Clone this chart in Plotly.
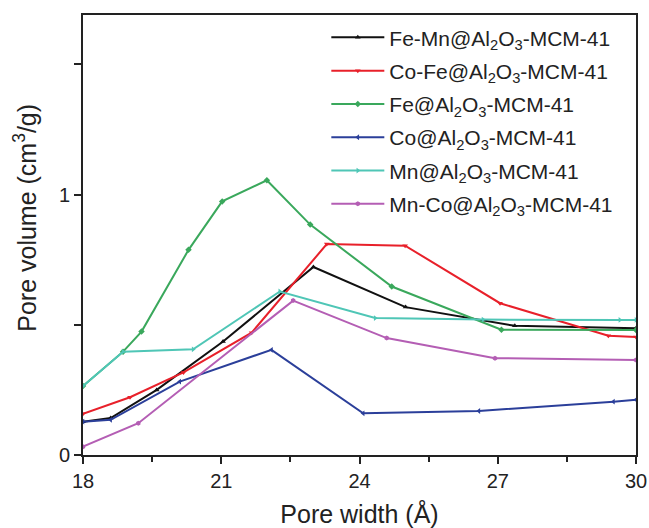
import plotly.graph_objects as go

# Data (pore width in Å, pore volume in cm3/g)
fe_mn_x = [18.0, 18.6, 19.6, 21.04, 23.0, 25.0, 27.37, 30.0]
fe_mn_y = [0.128, 0.142, 0.25, 0.436, 0.722, 0.568, 0.496, 0.487]

co_fe_x = [18.0, 19.02, 20.18, 21.66, 23.29, 24.99, 27.05, 29.4, 30.0]
co_fe_y = [0.158, 0.222, 0.317, 0.47, 0.81, 0.804, 0.583, 0.458, 0.453]

fe_x = [18.0, 18.87, 19.27, 20.29, 21.02, 21.99, 22.93, 24.7, 27.08, 30.0]
fe_y = [0.265, 0.397, 0.474, 0.788, 0.974, 1.055, 0.885, 0.647, 0.481, 0.48]

co_x = [18.0, 18.6, 20.1, 22.09, 24.08, 26.59, 29.51, 30.0]
co_y = [0.128, 0.135, 0.282, 0.404, 0.160, 0.169, 0.205, 0.212]

mn_x = [18.0, 18.87, 20.39, 22.27, 24.34, 26.68, 29.65, 30.0]
mn_y = [0.265, 0.397, 0.406, 0.628, 0.526, 0.52, 0.519, 0.519]

mn_co_x = [18.0, 19.2, 22.56, 24.59, 26.94, 30.0]
mn_co_y = [0.032, 0.122, 0.593, 0.449, 0.372, 0.365]

names = [
    "Fe-Mn@Al<sub>2</sub>O<sub>3</sub>-MCM-41",
    "Co-Fe@Al<sub>2</sub>O<sub>3</sub>-MCM-41",
    "Fe@Al<sub>2</sub>O<sub>3</sub>-MCM-41",
    "Co@Al<sub>2</sub>O<sub>3</sub>-MCM-41",
    "Mn@Al<sub>2</sub>O<sub>3</sub>-MCM-41",
    "Mn-Co@Al<sub>2</sub>O<sub>3</sub>-MCM-41",
]
xs = [fe_mn_x, co_fe_x, fe_x, co_x, mn_x, mn_co_x]
ys = [fe_mn_y, co_fe_y, fe_y, co_y, mn_y, mn_co_y]
colors = ["#111111", "#e8202a", "#3aa85c", "#2b3f9a", "#4fc6b6", "#b45eb4"]
symbols = ["triangle-up", "triangle-down", "diamond", "triangle-left", "triangle-right", "hexagon"]

fig = go.Figure()
for i, (n, x, y, c, s) in enumerate(zip(names, xs, ys, colors, symbols)):
    fig.add_trace(go.Scatter(x=x, y=y, name=n, mode="lines+markers",
                             legendgroup="g%d" % i,
                             line=dict(color=c, width=2),
                             marker=dict(color=c, symbol=s, size=5)))

fig.update_layout(
    width=649, height=528,
    margin=dict(l=83, r=13, t=15, b=73, autoexpand=False),
    paper_bgcolor="white", plot_bgcolor="white",
    font=dict(family="Liberation Sans, Arial, sans-serif", color="#222222"),
    showlegend=True,
    legend=dict(x=0.44, y=0.995, xanchor="left", yanchor="top",
                font=dict(size=21, color="#222222"), bgcolor="rgba(0,0,0,0)",
                tracegroupgap=3, itemwidth=53),
    annotations=[dict(text="Pore volume (cm<sup>3</sup>/g)", xref="paper", yref="paper",
                      x=-0.105, y=0.539, xanchor="center", yanchor="middle",
                      textangle=-90, showarrow=False, font=dict(size=25, color="#222222"))],
)
fig.update_xaxes(
    range=[18, 30], tickvals=[18, 21, 24, 27, 30],
    ticks="outside", ticklen=7, tickwidth=2, tickcolor="#222222",
    showline=True, linewidth=2, linecolor="#222222", mirror=True,
    showgrid=False, zeroline=False, automargin=False,
    tickfont=dict(size=20),
    minor=dict(tickvals=[19.5, 22.5, 25.5, 28.5], ticks="outside", ticklen=5, tickwidth=2, tickcolor="#222222"),
    title=dict(text="Pore width (Å)", font=dict(size=25)),
)
fig.update_yaxes(
    range=[0, 1.69], tickvals=[0, 1],
    ticks="outside", ticklen=7, tickwidth=2, tickcolor="#222222",
    showline=True, linewidth=2, linecolor="#222222", mirror=True,
    showgrid=False, zeroline=False, automargin=False,
    tickfont=dict(size=20),
    minor=dict(tickvals=[0.5, 1.5], ticks="outside", ticklen=7, tickwidth=2, tickcolor="#222222"),
)

fig.write_html("out.html")
